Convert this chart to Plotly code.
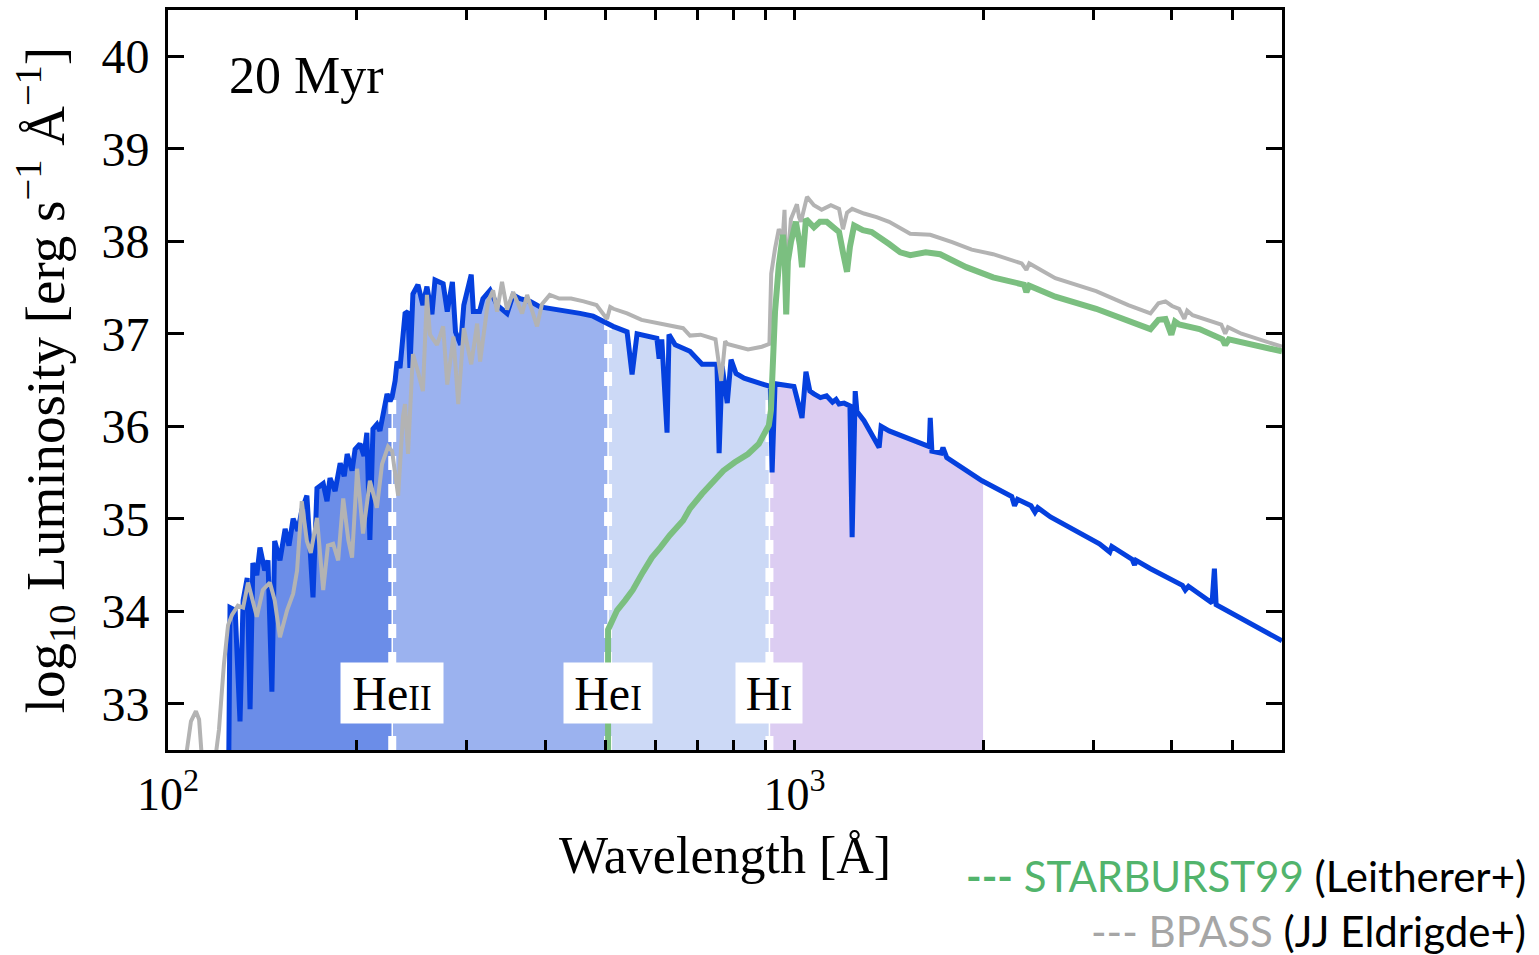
import numpy as np
import plotly.graph_objects as go

# ---------------- data ----------------
# wavelength [Angstrom], log10 luminosity [erg s^-1 A^-1]
blue_wl = [125.0, 125.6, 128.0, 130.3, 131.8, 133.8, 135.2, 136.6, 138.6, 140.2,
           142.7, 144.4, 146.5, 148.0, 150.9, 153.8, 156.0, 158.4, 161.2, 163.5,
           166.6, 170.4, 172.9, 176.9, 179.4, 181.4, 184.8, 188.3, 191.1, 193.2,
           196.7, 198.9, 202.5, 205.5, 207.7, 210.0, 212.4, 215.5, 217.9, 220.4,
           223.7, 226.2, 227.9, 230.4, 232.1, 234.6, 239.0, 241.6, 243.3, 246.0,
           250.6, 255.2, 259.0, 263.8, 266.8, 274.9, 279.1, 284.4, 287.7, 293.2,
           296.6, 304.8, 307.2, 314.2, 318.2, 326.7, 335.2, 347.7, 355.5, 364.8,
           378.3, 392.6, 411.8, 433.5, 454.7, 477.0, 494.9, 513.3, 540.5, 550.5,
           560.7, 588.0, 603.0, 608.0, 614.0, 626.0, 630.5, 645.0, 681.0, 712.0,
           752.0, 758.0, 766.5, 781.0, 792.0, 806.7, 831.0, 894.5, 915.0, 921.0,
           931.0, 998.0, 1028.0, 1043.0, 1058.0, 1074.0, 1100.0, 1125.0, 1150.0, 1165.0,
           1178.0, 1200.0, 1226.0, 1236.0, 1245.0, 1250.0, 1258.0, 1291.0, 1365.0, 1375.0,
           1416.0, 1552.0, 1641.0, 1647.0, 1657.0, 1714.0, 1726.0, 1750.0, 1992.0, 2222.0,
           2245.0, 2270.0, 2385.0, 2420.0, 2445.0, 2562.0, 3067.0, 3186.0, 3210.0, 3460.0,
           3490.0, 3510.0, 3701.0, 4161.0, 4205.0, 4255.0, 4575.0, 4640.0, 4680.0, 4710.0,
           4800.0, 6000.0]
blue_L = [32.30, 34.04, 34.01, 32.81, 34.12, 34.36, 32.94, 34.52, 34.39, 34.69,
          34.44, 34.55, 33.13, 34.76, 34.55, 34.89, 34.71, 35.00, 34.87, 35.09,
          35.25, 34.15, 35.33, 35.38, 35.19, 35.44, 35.30, 35.60, 35.46, 35.70,
          35.52, 35.75, 35.81, 35.68, 35.93, 34.77, 35.97, 36.02, 35.95, 36.16,
          36.35, 36.27, 36.32, 36.49, 36.70, 36.63, 37.22, 37.24, 36.63, 37.43,
          37.53, 37.31, 37.51, 37.21, 37.58, 37.54, 37.24, 37.56, 37.02, 36.88,
          37.31, 37.64, 37.24, 37.24, 37.38, 37.47, 37.31, 37.22, 37.42, 37.38,
          37.35, 37.29, 37.27, 37.24, 37.22, 37.19, 37.13, 37.08, 37.02, 36.56,
          37.00, 36.97, 36.95, 36.73, 36.94, 35.93, 36.99, 36.88, 36.81, 36.67,
          36.67, 35.71, 36.65, 36.25, 36.72, 36.57, 36.52, 36.45, 36.43, 35.50,
          36.46, 36.43, 36.09, 36.59, 36.38, 36.35, 36.31, 36.33, 36.26, 36.29,
          36.24, 36.25, 36.22, 34.80, 36.27, 36.38, 36.16, 36.06, 35.77, 36.00,
          35.95, 35.84, 35.78, 36.09, 35.73, 35.71, 35.77, 35.66, 35.41, 35.24,
          35.14, 35.21, 35.14, 35.07, 35.12, 35.02, 34.73, 34.64, 34.70, 34.56,
          34.50, 34.55, 34.46, 34.28, 34.23, 34.27, 34.12, 34.09, 34.46, 34.07,
          34.04, 33.68]

grey_wl = [102.6, 107.2, 108.8, 110.8, 112.1, 113.3, 118.4, 120.6, 122.8, 124.7,
           126.5, 129.3, 131.8, 134.2, 136.2, 138.6, 141.7, 145.4, 148.0, 150.9,
           154.9, 158.4, 160.7, 163.5, 166.6, 169.0, 172.9, 176.9, 180.0, 183.5,
           186.9, 190.4, 194.0, 196.7, 200.4, 204.8, 210.0, 215.5, 219.6, 224.5,
           227.9, 230.4, 233.0, 237.2, 239.0, 241.6, 246.0, 250.6, 255.2, 259.0,
           261.9, 268.8, 274.9, 279.1, 285.5, 290.6, 296.6, 304.8, 311.5, 314.9,
           324.2, 330.3, 335.2, 341.3, 347.7, 355.5, 367.5, 374.3, 381.0, 388.2,
           395.3, 406.7, 421.2, 440.0, 460.8, 483.0, 502.0, 508.0, 514.0, 540.5,
           570.0, 615.0, 664.0, 681.0, 708.0, 748.0, 764.0, 775.0, 781.0, 843.0,
           887.0, 912.0, 918.0, 931.0, 944.0, 958.0, 964.0, 970.0, 976.0, 987.0,
           1009.0, 1017.0, 1024.0, 1036.0, 1047.0, 1074.0, 1105.0, 1143.0, 1178.0, 1195.0,
           1213.0, 1236.0, 1291.0, 1352.0, 1416.0, 1530.0, 1647.0, 1785.0, 1918.0, 2075.0,
           2245.0, 2305.0, 2345.0, 2370.0, 2608.0, 3030.0, 3410.0, 3700.0, 3810.0, 3910.0,
           4005.0, 4110.0, 4190.0, 4235.0, 4320.0, 4800.0, 4870.0, 4920.0, 5170.0, 6000.0]
grey_L = [32.24, 32.50, 32.81, 32.92, 32.83, 32.40, 32.29, 32.72, 33.42, 33.85,
          33.96, 34.06, 34.04, 34.31, 34.14, 33.94, 34.23, 34.31, 34.12, 33.72,
          34.01, 34.19, 34.44, 35.19, 34.76, 34.63, 35.01, 34.23, 34.71, 34.73,
          34.55, 35.22, 34.77, 34.58, 35.54, 34.84, 35.41, 35.12, 35.59, 35.78,
          35.73, 35.52, 35.25, 36.11, 36.24, 35.70, 36.78, 36.59, 36.38, 37.42,
          36.99, 36.88, 37.08, 36.45, 36.97, 36.24, 37.06, 36.67, 37.11, 36.70,
          37.35, 37.47, 37.24, 37.56, 37.26, 37.45, 37.22, 37.42, 37.24, 37.08,
          37.32, 37.42, 37.38, 37.38, 37.35, 37.31, 37.16, 37.29, 37.27, 37.22,
          37.15, 37.11, 37.06, 36.98, 36.99, 36.94, 36.49, 36.92, 36.89, 36.83,
          36.86, 36.89, 37.65, 37.92, 38.13, 38.05, 38.34, 37.59, 37.78, 38.24,
          38.40, 38.26, 38.21, 38.37, 38.48, 38.39, 38.34, 38.39, 38.35, 38.13,
          38.31, 38.35, 38.30, 38.26, 38.21, 38.08, 38.07, 37.99, 37.91, 37.86,
          37.78, 37.76, 37.69, 37.76, 37.60, 37.46, 37.31, 37.22, 37.33, 37.35,
          37.30, 37.27, 37.16, 37.25, 37.20, 37.10, 37.00, 37.07, 37.00, 36.86]

green_wl = [504.0, 504.0, 512.0, 521.0, 537.0, 552.0, 572.5, 592.0, 611.0, 632.0,
            664.0, 681.0, 712.0, 739.0, 770.0, 803.0, 843.0, 877.0, 894.5, 910.0,
            917.0, 924.0, 931.0, 944.0, 951.0, 958.0, 964.0, 970.0, 976.0, 987.0,
            1005.0, 1020.0, 1028.0, 1036.0, 1043.0, 1074.0, 1098.0, 1126.0, 1160.0, 1178.0,
            1195.0, 1213.0, 1226.0, 1245.0, 1286.0, 1328.0, 1416.0, 1475.0, 1530.0, 1620.0,
            1708.0, 1880.0, 2075.0, 2265.0, 2325.0, 2345.0, 2370.0, 2608.0, 3030.0, 3700.0,
            3810.0, 3910.0, 3995.0, 4050.0, 4110.0, 4430.0, 4820.0, 4870.0, 4935.0, 6000.0]
green_L = [32.40, 33.80, 33.90, 34.01, 34.12, 34.23, 34.42, 34.58, 34.69, 34.82,
           34.98, 35.11, 35.27, 35.39, 35.52, 35.61, 35.70, 35.81, 35.92, 36.01,
           36.17, 36.81, 37.24, 37.74, 37.94, 38.07, 37.88, 37.21, 37.78, 37.99,
           38.21, 37.96, 37.72, 37.99, 38.24, 38.15, 38.21, 38.21, 38.14, 38.10,
           37.88, 37.67, 37.94, 38.17, 38.12, 38.10, 37.97, 37.88, 37.85, 37.88,
           37.86, 37.72, 37.61, 37.55, 37.53, 37.45, 37.52, 37.40, 37.27, 37.05,
           37.15, 37.16, 36.99, 37.13, 37.10, 37.05, 36.94, 36.88, 36.94, 36.81]

# ionisation edges and shaded bands
edges = [228, 504, 912]
edge_labels = ["He<span style='font-size:35px'>II</span>",
               "He<span style='font-size:35px'>I</span>",
               "H<span style='font-size:35px'>I</span>"]
edge_label_widths = [90, 76, 54]
band_bounds = [125.6, 228, 504, 912, 2000]
band_colors = ["#6b8de8", "#9bb2ef", "#ccd9f6", "#dccdf2"]

x_major = [100, 1000]
x_major_text = ["10<sup>2</sup>", "10<sup>3</sup>"]
x_minor = [200, 300, 400, 500, 600, 700, 800, 900, 2000, 3000, 4000, 5000]
y_ticks = [33, 34, 35, 36, 37, 38, 39, 40]

BLUE = "#0540de"
GREY = "#b3b3b3"
GREEN = "#7bbf80"
SERIF = "Liberation Serif"

# ---------------- figure ----------------
bw = np.array(blue_wl)
bL = np.array(blue_L)


def blue_at(w):
    return float(np.interp(np.log10(w), np.log10(bw), bL))


fig = go.Figure()

for a, b, col in zip(band_bounds[:-1], band_bounds[1:], band_colors):
    m = (bw > a) & (bw < b)
    xs = [a] + list(bw[m]) + [b]
    ys = [blue_at(a)] + list(bL[m]) + [blue_at(b)]
    fig.add_trace(go.Scatter(x=xs, y=ys, mode="lines", fill="tozeroy",
                             fillcolor=col, line=dict(width=0),
                             hoverinfo="skip", showlegend=False))

for e in edges:
    top = blue_at(e)
    fig.add_trace(go.Scatter(x=[e, e], y=[32.5, top], mode="lines",
                             line=dict(color="white", width=1.5),
                             hoverinfo="skip", showlegend=False))
    fig.add_trace(go.Scatter(x=[e, e], y=[32.5, top], mode="lines",
                             line=dict(color="white", width=8, dash="14px,14px"),
                             hoverinfo="skip", showlegend=False))

fig.add_trace(go.Scatter(x=blue_wl, y=blue_L, mode="lines",
                         line=dict(color=BLUE, width=5), showlegend=False))
fig.add_trace(go.Scatter(x=grey_wl, y=grey_L, mode="lines",
                         line=dict(color=GREY, width=4), showlegend=False))
fig.add_trace(go.Scatter(x=green_wl, y=green_L, mode="lines",
                         line=dict(color=GREEN, width=6), showlegend=False))

for e, lab, wdt in zip(edges, edge_labels, edge_label_widths):
    fig.add_annotation(x=np.log10(e), y=33.12, xref="x", yref="y", text=lab,
                       showarrow=False, bgcolor="white", borderpad=6,
                       width=wdt, height=48, align="center",
                       font=dict(family=SERIF, size=48, color="black"))

fig.add_annotation(x=0.053, y=0.912, xref="paper", yref="paper", text="20 Myr",
                   showarrow=False, xanchor="left", yanchor="middle",
                   font=dict(family=SERIF, size=52, color="black"))

fig.add_annotation(x=1.2208, y=-0.170, xref="paper", yref="paper",
                   text="<span style='color:#52b46c'><b>---</b> STARBURST99</span> (Leitherer+)",
                   showarrow=False, xanchor="right", yanchor="middle",
                   font=dict(family="Lato", size=42, color="black"))
fig.add_annotation(x=1.2208, y=-0.245, xref="paper", yref="paper",
                   text="<span style='color:#a6a6a6'>--- BPASS</span> (JJ Eldrigde+)",
                   showarrow=False, xanchor="right", yanchor="middle",
                   font=dict(family="Lato", size=42, color="black"))

fig.update_layout(
    width=1539, height=955,
    margin=dict(l=168, r=257, t=7, b=205),
    plot_bgcolor="white", paper_bgcolor="white",
    showlegend=False,
    font=dict(family=SERIF, color="black"),
)
fig.update_xaxes(
    type="log", range=[2, np.log10(6000)],
    tickmode="array", tickvals=x_major, ticktext=x_major_text,
    ticks="inside", ticklen=10, tickwidth=2.5, tickcolor="black",
    showline=True, linewidth=3, linecolor="black", mirror="ticks",
    showgrid=False, zeroline=False,
    tickfont=dict(family=SERIF, size=46, color="black"),
    ticklabelstandoff=2,
    minor=dict(tickmode="array", tickvals=x_minor, ticks="inside", ticklen=10,
               tickwidth=2.5, tickcolor="black", showgrid=False),
    title=dict(text="Wavelength [Å]", font=dict(family=SERIF, size=52), standoff=18),
)
fig.update_yaxes(
    range=[32.5, 40.5], tickmode="array", tickvals=y_ticks,
    ticks="inside", ticklen=16, tickwidth=2.5, tickcolor="black",
    showline=True, linewidth=3, linecolor="black", mirror="ticks",
    showgrid=False, zeroline=False,
    tickfont=dict(family=SERIF, size=48, color="black"),
    ticklabelstandoff=6,
    title=dict(text="log<sub>10</sub> Luminosity [erg s<sup>−1</sup> Å<sup>−1</sup>]",
               font=dict(family=SERIF, size=55), standoff=20),
)

fig.write_html("out.html", config={"displayModeBar": False},
               post_script="document.body.style.margin='0';")
